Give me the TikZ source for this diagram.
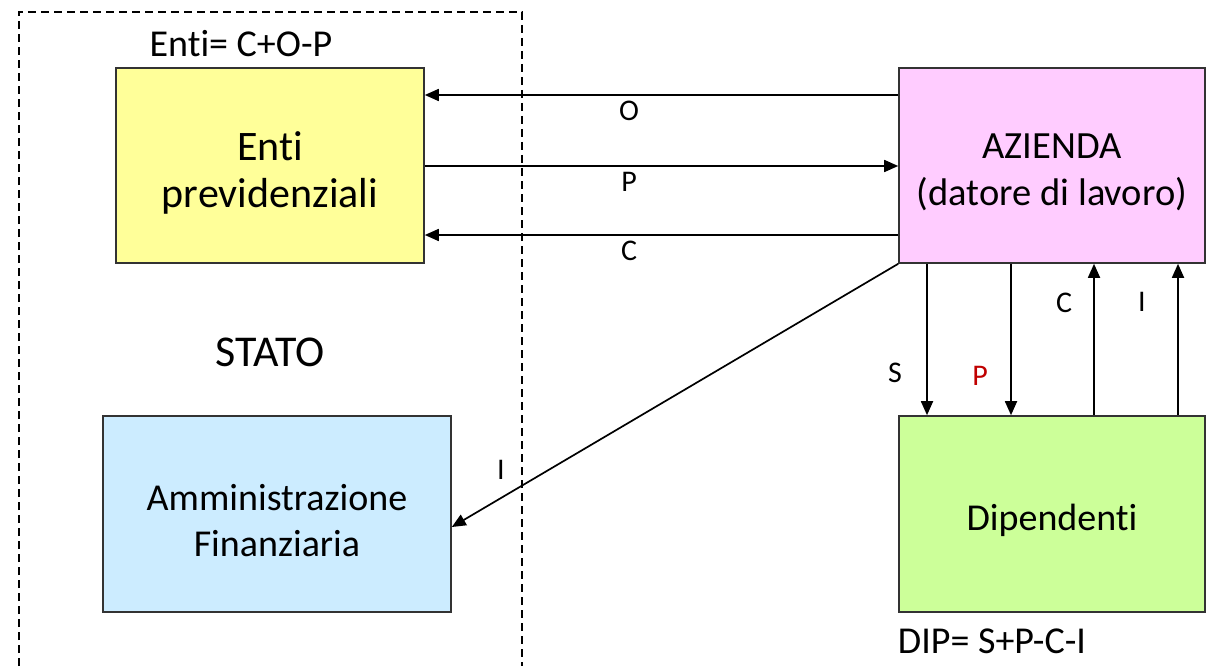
\documentclass[tikz,border=0pt]{standalone}
\usepackage{fontspec}
\setmainfont{Carlito}[Ligatures={NoCommon}]
\usetikzlibrary{arrows.meta}
\definecolor{cyel}{HTML}{FFFF99}
\definecolor{cpink}{HTML}{FFCCFF}
\definecolor{cblue}{HTML}{CCECFF}
\definecolor{cgreen}{HTML}{CCFF99}
\definecolor{cred}{HTML}{C00000}
\definecolor{cborder}{HTML}{333333}
\newcommand{\lowstrut}{\rule{0pt}{1.02em}}
\begin{document}
\begin{tikzpicture}[x=1pt,y=-1pt,
  box/.style={draw=cborder,line width=1.6pt,rectangle,align=center,inner sep=0pt},
  arr/.style={line width=1.7pt,-{Triangle[length=14pt,width=12pt]}},
  lbl/.style={font=\fontsize{30}{33}\selectfont,inner sep=0pt},
  frame/.style={line width=1.4pt,dash pattern=on 8pt off 5pt}]
\useasboundingbox (0,0) rectangle (1214,666);
\fill[white] (0,0) rectangle (1214,666);
% dashed STATO frame
\draw[frame] (19,666) -- (19,12) -- (522,12) -- (522,666);
% boxes
\node[box,fill=cyel,minimum width=308pt,minimum height=195pt,font=\fontsize{42}{47}\selectfont] (enti) at (270,165.5) {\lowstrut Enti\\previdenziali};
\node[box,fill=cpink,minimum width=306pt,minimum height=195pt,font=\fontsize{38.5}{47}\selectfont] (az) at (1052,165.5) {\lowstrut AZIENDA\\(datore di lavoro)};
\node[box,fill=cgreen,minimum width=306pt,minimum height=196pt,font=\fontsize{38}{44}\selectfont] (dip) at (1052,514) {\lowstrut Dipendenti};
\node[box,fill=cblue,minimum width=348pt,minimum height=196pt,font=\fontsize{38}{46}\selectfont] (amm) at (277,514) {\lowstrut Amministrazione\\Finanziaria};
% texts
\node[font=\fontsize{38}{40}\selectfont,inner sep=0pt] (entieq) at (241,44) {Enti= C+O-P};
\node[font=\fontsize{44}{48}\selectfont,inner sep=0pt] (stato) at (270,352) {STATO};
\node[font=\fontsize{38}{40}\selectfont,inner sep=0pt] (dipeq) at (992,641) {DIP= S+P-C-I};
% horizontal arrows
\draw[arr] ([yshift=70.5pt]az.west) -- ([yshift=70.5pt]enti.east);
\draw[arr] ([yshift=-0.5pt]enti.east) -- ([yshift=-0.5pt]az.west);
\draw[arr] ([yshift=-69.5pt]az.west) -- ([yshift=-69.5pt]enti.east);
\node[lbl] (lo) at (629,111) {O};
\node[lbl] (lp) at (629,182) {P};
\node[lbl] (lc) at (629,251) {C};
% vertical arrows
\draw[arr] ([xshift=-125pt]az.south) -- ([xshift=-125pt]dip.north);
\draw[arr] ([xshift=-41pt]az.south) -- ([xshift=-41pt]dip.north);
\draw[arr] ([xshift=42pt]dip.north) -- ([xshift=42pt]az.south);
\draw[arr] ([xshift=126pt]dip.north) -- ([xshift=126pt]az.south);
\node[lbl] (ls) at (895,373) {S};
\node[lbl,text=cred] (lp2) at (980,376) {P};
\node[lbl] (lc2) at (1064,303) {C};
\node[lbl] (li2) at (1142,302) {I};
% diagonal arrow
\draw[arr] (az.south west) -- ([yshift=-13pt]amm.east);
\node[lbl] (li) at (501,470) {I};
\end{tikzpicture}
\end{document}
